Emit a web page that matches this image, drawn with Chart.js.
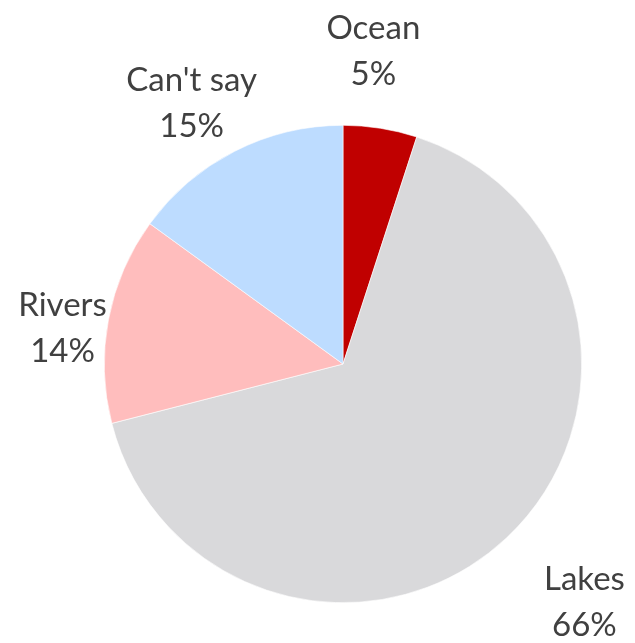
<!DOCTYPE html>
<html>
<head>
<meta charset="utf-8">
<script src="https://cdn.jsdelivr.net/npm/chart.js@4"></script>
<style>
  html, body { margin: 0; padding: 0; background: #ffffff; }
  #wrap { width: 635px; height: 643px; }
</style>
</head>
<body>
<div id="wrap"><canvas id="pie" width="635" height="643"></canvas></div>
<script>
// data
var categories = ["Ocean", "Lakes", "Rivers", "Can't say"];
var shares = [5, 66, 14, 15];
var colours = ["#c00000", "#d9d9db", "#ffbdbd", "#bddcff"];

// label nudges from the rim point of each slice (layout only)
var labelNudge = [[-7, -77], [78, 64], [-46, 9], [-43, -48]];

// draw category + percent next to each slice
var outsideLabels = {
    id: "outsideLabels",
    afterDatasetsDraw: function(chart) {
        var ctx = chart.ctx;
        var arcs = chart.getDatasetMeta(0).data;
        ctx.save();
        ctx.fillStyle = "#404040";
        ctx.font = "33px Lato";
        ctx.textAlign = "center";
        ctx.textBaseline = "middle";
        arcs.forEach(function(arc, i) {
            var p = arc.getProps(["x", "y", "startAngle", "endAngle", "outerRadius"], true);
            var mid = (p.startAngle + p.endAngle) / 2;
            var x = p.x + Math.cos(mid) * p.outerRadius + labelNudge[i][0];
            var y = p.y + Math.sin(mid) * p.outerRadius + labelNudge[i][1];
            ctx.fillText(categories[i], x, y - 23);
            ctx.fillText(shares[i] + "%", x, y + 23);
        });
        ctx.restore();
    }
};

new Chart(document.getElementById("pie"), {
    type: "pie",
    data: {
        labels: categories,
        datasets: [{
            data: shares,
            backgroundColor: colours,
            borderColor: "#ffffff",
            borderWidth: 0.6
        }]
    },
    options: {
        responsive: false,
        animation: false,
        layout: { padding: { left: 104, right: 53, top: 125, bottom: 40 } },
        plugins: {
            legend: { display: false },
            tooltip: { enabled: false }
        }
    },
    plugins: [outsideLabels]
});
</script>
</body>
</html>
